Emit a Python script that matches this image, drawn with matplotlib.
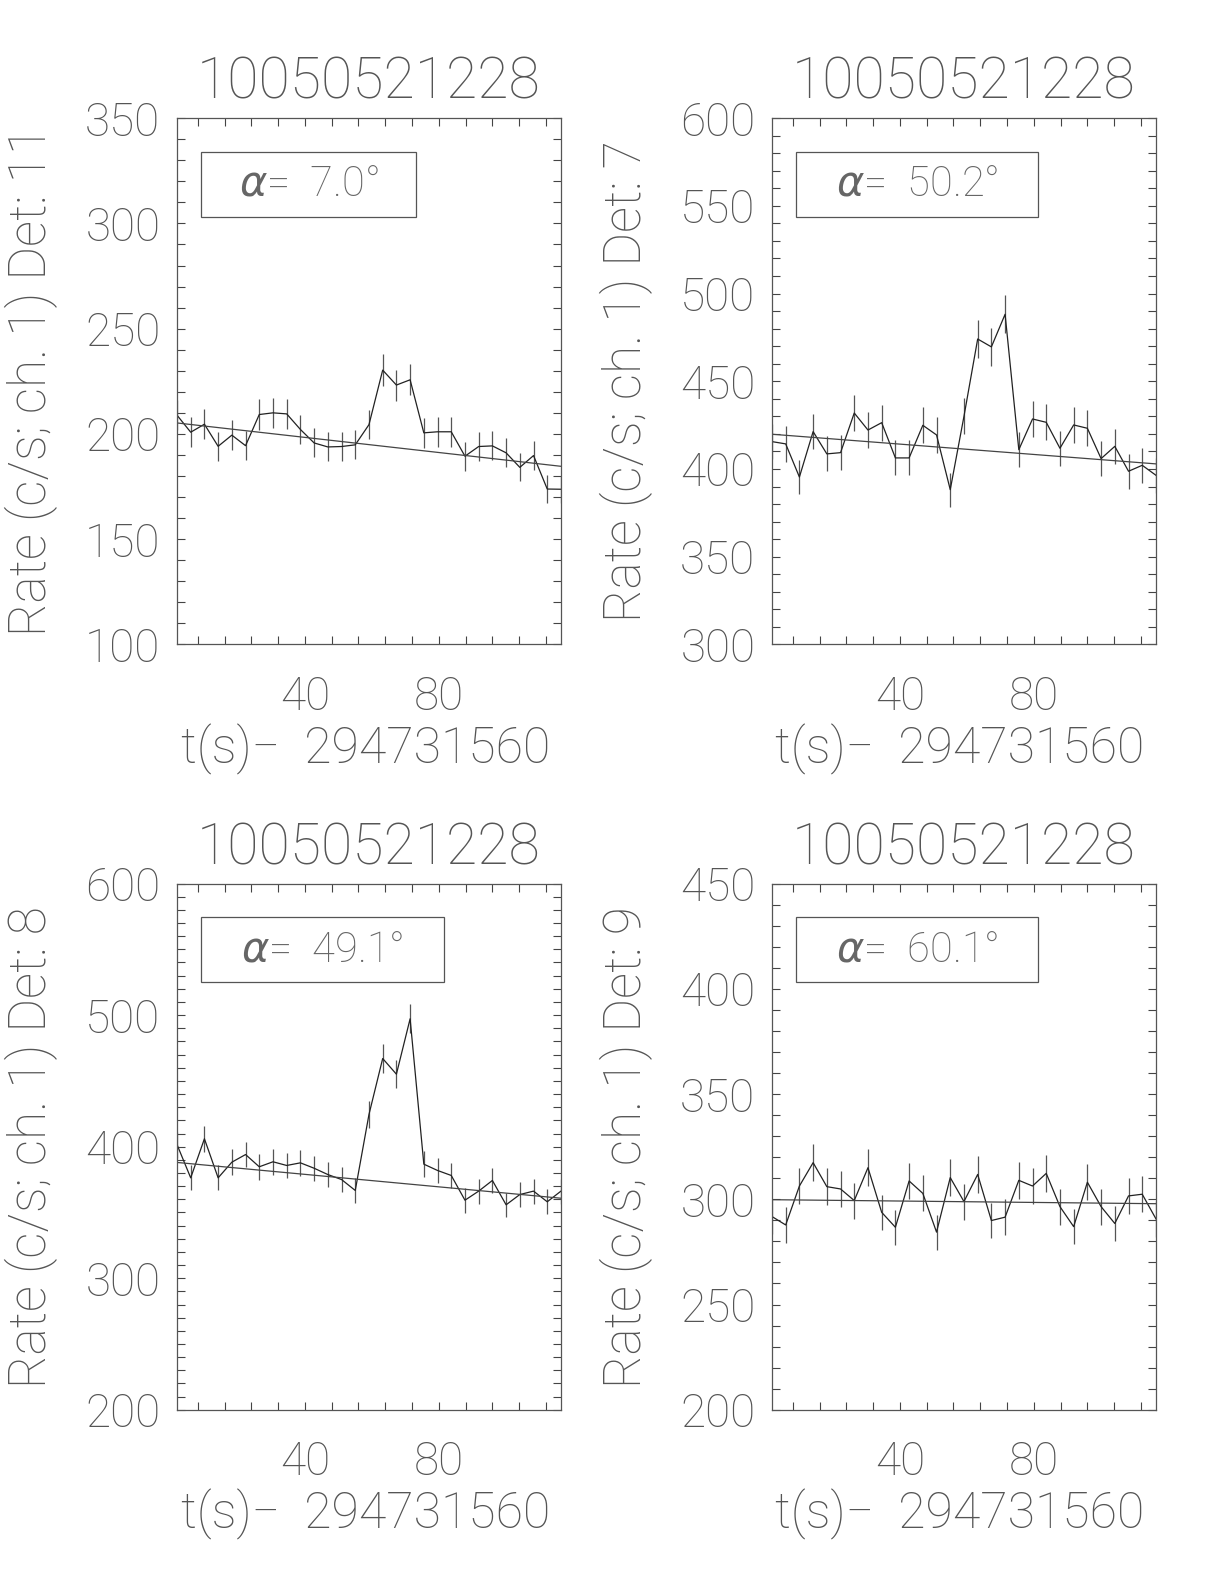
import numpy as np
import matplotlib
matplotlib.use("Agg")
import matplotlib.pyplot as plt
from matplotlib.ticker import MultipleLocator

# time bins (s since 294731560), 4.096 s CTIME bins
t_start = 1.8
bin_width = 4.096
n_bins = 29

title = "10050521228"
xlabel = "t(s)\u2212  294731560"

dets = ["11", "7", "8", "9"]
angles = ["7.0", "50.2", "49.1", "60.1"]

rate_det11 = [208.9, 200.8, 204.6, 194.1, 199.4, 194.4, 209.2, 210.0, 209.5, 202.1,
              195.7, 193.8, 194.0, 194.8, 204.4, 230.3, 223.2, 225.7, 200.5, 201.0,
              201.0, 189.4, 194.0, 194.3, 191.0, 184.1, 189.7, 173.8, 173.7]
rate_det7 = [415.6, 414.3, 395.4, 421.3, 408.6, 409.3, 431.9, 422.2, 426.4, 406.3,
             406.3, 424.9, 419.4, 388.2, 430.0, 474.1, 469.6, 488.2, 411.0, 428.5,
             426.6, 411.8, 425.1, 423.2, 405.9, 412.9, 398.7, 402.1, 396.4]
rate_det8 = [401.6, 376.3, 406.0, 376.3, 388.2, 394.0, 384.7, 388.5, 385.7, 387.7,
             383.6, 378.8, 375.0, 366.7, 424.5, 467.0, 455.1, 497.2, 386.7, 381.9,
             378.1, 359.3, 366.2, 374.3, 355.8, 363.6, 366.2, 358.1, 366.2]
rate_det9 = [291.8, 287.8, 306.3, 317.4, 306.0, 304.9, 299.4, 315.0, 293.8, 286.7,
             308.7, 302.8, 284.4, 310.3, 298.9, 311.8, 289.9, 291.5, 309.0, 306.3,
             312.3, 296.5, 287.0, 308.1, 296.5, 288.5, 301.6, 302.4, 290.7]

# linear background fit, value at first and last bin
fit_det11 = [205.2, 184.6]
fit_det7 = [419.8, 402.9]
fit_det8 = [388.0, 360.8]
fit_det9 = [299.8, 297.9]

rates = [rate_det11, rate_det7, rate_det8, rate_det9]
fits = [fit_det11, fit_det7, fit_det8, fit_det9]
ylims = [(100, 350), (300, 600), (200, 600), (200, 450)]
ymajor = [50, 50, 100, 50]

plt.rcParams['font.family'] = ['Roboto', 'DejaVu Sans']
plt.rcParams['font.weight'] = 'light'
plt.rcParams['axes.titleweight'] = 'light'
plt.rcParams['axes.labelweight'] = 'light'
plt.rcParams['mathtext.fontset'] = 'custom'
plt.rcParams['mathtext.it'] = 'DejaVu Sans:italic'
plt.rcParams['mathtext.rm'] = 'Roboto:light'
txt_color = '#555555'

fig = plt.figure(figsize=(12.24, 15.84), dpi=100)
# axes boxes [left, bottom, width, height] in figure fraction
boxes = [[0.1446, 0.5932, 0.3137, 0.3322],
         [0.6307, 0.5932, 0.3137, 0.3322],
         [0.1446, 0.1100, 0.3137, 0.3322],
         [0.6307, 0.1100, 0.3137, 0.3322]]
box_right = [0.622, 0.693, 0.695, 0.693]

t = t_start + bin_width * np.arange(n_bins)

for i in range(4):
    ax = fig.add_axes(boxes[i])
    r = np.array(rates[i])
    err = np.sqrt(r / bin_width)
    ax.errorbar(t, r, yerr=err, fmt='none', ecolor='#555555', elinewidth=0.9, capsize=0)
    ax.plot(t, r, color='#222222', lw=0.9)
    ax.plot([t[0], t[-1]], fits[i], color='#444444', lw=0.9)

    ax.set_xlim(t[0], t[-1])
    ax.set_ylim(*ylims[i])
    ax.xaxis.set_major_locator(MultipleLocator(40))
    ax.xaxis.set_minor_locator(MultipleLocator(8))
    ax.yaxis.set_major_locator(MultipleLocator(ymajor[i]))
    ax.yaxis.set_minor_locator(MultipleLocator(10))
    ax.tick_params(which='both', direction='in', top=True, right=True,
                   length=5.5, width=0.8, color='#444444')
    ax.tick_params(axis='y', labelsize=33, pad=12, labelcolor=txt_color)
    ax.tick_params(axis='x', labelsize=33, pad=22, labelcolor=txt_color)
    for s in ax.spines.values():
        s.set_linewidth(0.9)
        s.set_color('#555555')

    ax.set_title(title, fontsize=41, color=txt_color, pad=14)
    ax.set_ylabel("Rate (c/s; ch. 1) Det: " + dets[i], fontsize=37, color=txt_color)
    ax.yaxis.set_label_coords(-0.31, 0.5)
    ax.set_xlabel(xlabel, fontsize=36, color=txt_color)
    ax.xaxis.set_label_coords(0.49, -0.15)

    x0, x1 = 0.0625, box_right[i]
    y0, y1 = 0.812, 0.936
    ax.add_patch(plt.Rectangle((x0, y0), x1 - x0, y1 - y0, transform=ax.transAxes,
                               fill=False, ec='#555555', lw=0.9))
    ax.text((x0 + x1) / 2, (y0 + y1) / 2, r"$\alpha$=  " + angles[i] + "\u00b0",
            transform=ax.transAxes, ha='center', va='center', fontsize=30,
            color='#666666')

fig.savefig("out.png", dpi=100)
